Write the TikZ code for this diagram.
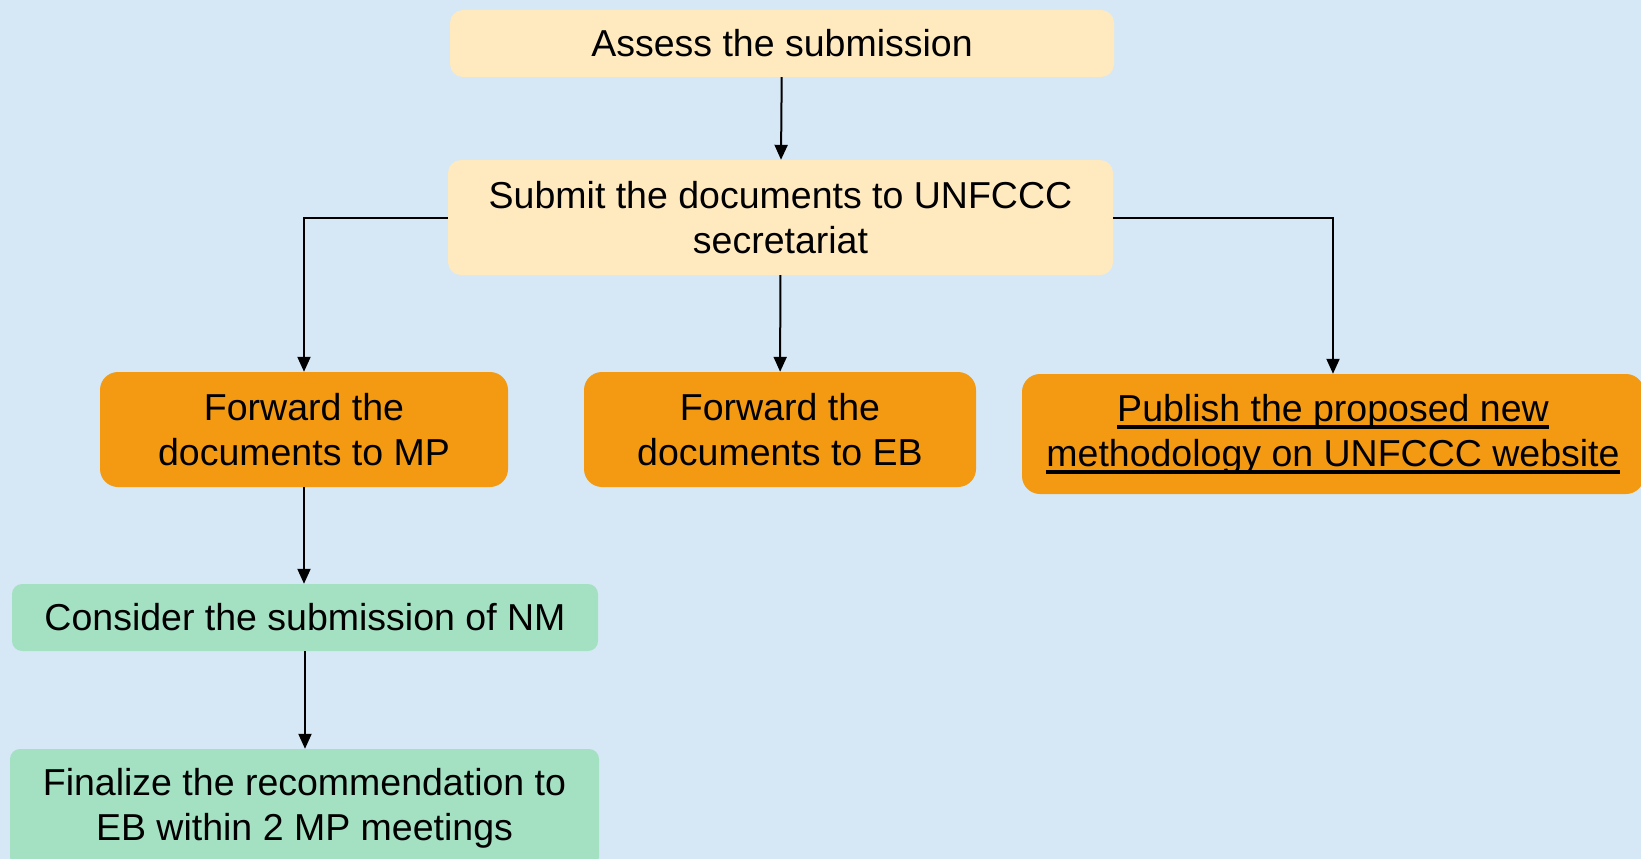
\documentclass[tikz,border=0pt]{standalone}
\usepackage{fontspec}
\setmainfont{Liberation Sans}
\usetikzlibrary{arrows.meta,calc}
\definecolor{bgblue}{HTML}{D6E8F5}
\definecolor{cream}{HTML}{FFEAC0}
\definecolor{amber}{HTML}{F39A12}
\definecolor{mint}{HTML}{A4E1C3}
\newsavebox\ulbox
\newcommand\ulink[1]{\sbox\ulbox{#1}\smash{\rlap{\vrule height -4pt depth 7.5pt width \wd\ulbox}}\usebox\ulbox}
\tikzset{
    yellowbox/.style = {rectangle,
                    rounded corners=13pt,
                    fill=cream,
                    draw=none,
                    text=black,
                    align=center,
                    inner sep=0pt},
    orangebox/.style = {rectangle,
                    rounded corners=18pt,
                    fill=amber,
                    draw=none,
                    text=black,
                    align=center,
                    inner sep=0pt},
    greenbox/.style = {rectangle,
                    rounded corners=10pt,
                    fill=mint,
                    draw=none,
                    text=black,
                    align=center,
                    inner sep=0pt},
    -,
    link/.style =   {draw=black,
                    line width=2pt,
                    -{Triangle[width=13pt,length=15pt]}},
    font={\fontsize{37.5}{45}\selectfont}}

\begin{document}
\begin{tikzpicture}[x=1pt,y=-1pt]
        \useasboundingbox (0,0) rectangle (1641,859);
        \fill[bgblue] (0,0) rectangle (1641,859);
                \node[yellowbox, minimum width=664pt, minimum height=67pt]  (assess)  at (782,43.5)   {Assess the submission};
                \node[yellowbox, minimum width=665pt, minimum height=115pt] (submit)  at (780.5,217.5) {Submit the documents to UNFCCC\\secretariat};
                \node[orangebox, minimum width=408pt, minimum height=115pt] (fwdmp)   at (304,429.5)  {Forward the\\documents to MP};
                \node[orangebox, minimum width=392pt, minimum height=115pt] (fwdeb)   at (780,429.5)  {Forward the\\documents to EB};
                \node[orangebox, minimum width=622pt, minimum height=120pt] (publish) at (1333,434)   {\ulink{Publish the proposed new}\\\ulink{methodology on UNFCCC website}};
                \node[greenbox,  minimum width=586pt, minimum height=67pt]  (consider) at (305,617.5) {Consider the submission of NM};
                \node[greenbox,  minimum width=589pt, minimum height=118pt] (final)   at (304.5,808)  {Finalize the recommendation to\\EB within 2 MP meetings};
                \path           (assess)   edge [link]  node [] {} (submit)
                                (submit)   edge [link]  node [] {} (fwdeb)
                                (fwdmp.south)    edge [link]  node [] {} (fwdmp.south |- consider.north)
                                (consider.south) edge [link]  node [] {} (consider.south |- final.north);
                \draw [link]    (submit.west) -| (fwdmp.north);
                \draw [link]    (submit.east) -| (publish.north);
        \end{tikzpicture}
\end{document}
